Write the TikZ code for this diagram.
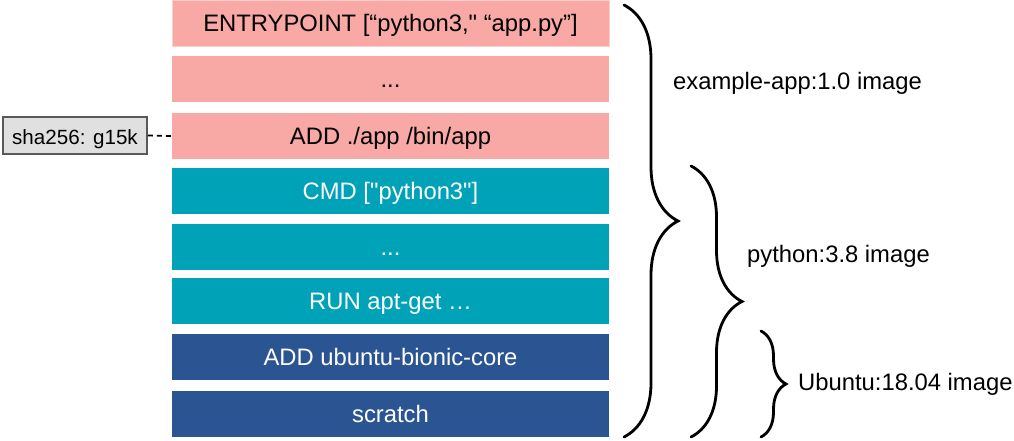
\documentclass[tikz,border=0pt]{standalone}
\usepackage{fontspec}
\newfontfamily\diagfont{Liberation Sans}
\usepackage{xcolor}
\usepackage{tikz}
\usetikzlibrary{decorations.pathreplacing}

\definecolor{apppink}{RGB}{248,168,165}
\definecolor{appedge}{RGB}{251,205,203}
\definecolor{pyteal}{RGB}{0,162,184}
\definecolor{ubblue}{RGB}{43,85,146}
\definecolor{hashgray}{RGB}{224,224,224}
\definecolor{hashedge}{RGB}{89,89,89}

\begin{document}
\begin{tikzpicture}[
    x=1pt, y=-1pt,
    layer/.style={rectangle, minimum width=437pt, minimum height=46pt, inner sep=0pt,
      text height=17pt, text depth=0pt,
      font=\diagfont\fontsize{23.8}{27}\selectfont},
    layer_app/.style={layer, fill=apppink, text=black},
    layer_py/.style={layer, fill=pyteal, text=white},
    layer_ub/.style={layer, fill=ubblue, text=white},
    hash_box/.style={rectangle, draw=hashedge, line width=1.6pt, fill=hashgray,
      minimum width=144pt, minimum height=37pt, inner sep=0pt,
      text height=17pt, text depth=0pt,
      font=\diagfont\fontsize{20.6}{24}\selectfont},
    img_brace/.style={decorate, line width=2.8pt, line cap=round},
    img_label/.style={anchor=base west, inner sep=0pt, font=\diagfont\fontsize{23.8}{27}\selectfont}
  ]
    \useasboundingbox (0,0) rectangle (1014,441);

    % layers of the image
    \node[layer_app, draw=appedge, line width=1pt] (entry) at (390.5,23.5) {ENTRYPOINT [“python3," “app.py”]};
    \node[layer_app] (appdots) at (390.5,79) {...};
    \node[layer_app] (addapp) at (390.5,136) {ADD ./app /bin/app};
    \node[layer_py] (cmd) at (390.5,191) {CMD ["python3"]};
    \node[layer_py] (pydots) at (390.5,247) {...};
    \node[layer_py] (aptget) at (390.5,301) {RUN apt-get …};
    \node[layer_ub] (addubuntu) at (390.5,357) {ADD ubuntu-bionic-core};
    \node[layer_ub] (scratch) at (390.5,414) {scratch};

    % layer digest
    \node[hash_box] (digest) at (75,135.5) {sha256: g15k};
    \draw[line width=1.8pt, dash pattern=on 5pt off 4pt] (digest.east) -- (addapp.west);

    % braces
    \coordinate (apptop) at (624,5);
    \coordinate (appbot) at (624,437);
    \coordinate (pytop) at (691,166);
    \coordinate (pybot) at (691,437);
    \coordinate (ubtop) at (761,331);
    \coordinate (ubbot) at (761,437);
    \draw[img_brace, decoration={brace, amplitude=54pt}] (apptop) -- (appbot);
    \draw[img_brace, decoration={brace, amplitude=51pt}] (pytop) -- (pybot);
    \draw[img_brace, decoration={brace, amplitude=25pt}] (ubtop) -- (ubbot);

    \node[img_label] (applabel) at (673,90) {example-app:1.0 image};
    \node[img_label] (pylabel) at (747,262) {python:3.8 image};
    \node[img_label] (ublabel) at (798,390) {Ubuntu:18.04 image};
  \end{tikzpicture}
\end{document}
